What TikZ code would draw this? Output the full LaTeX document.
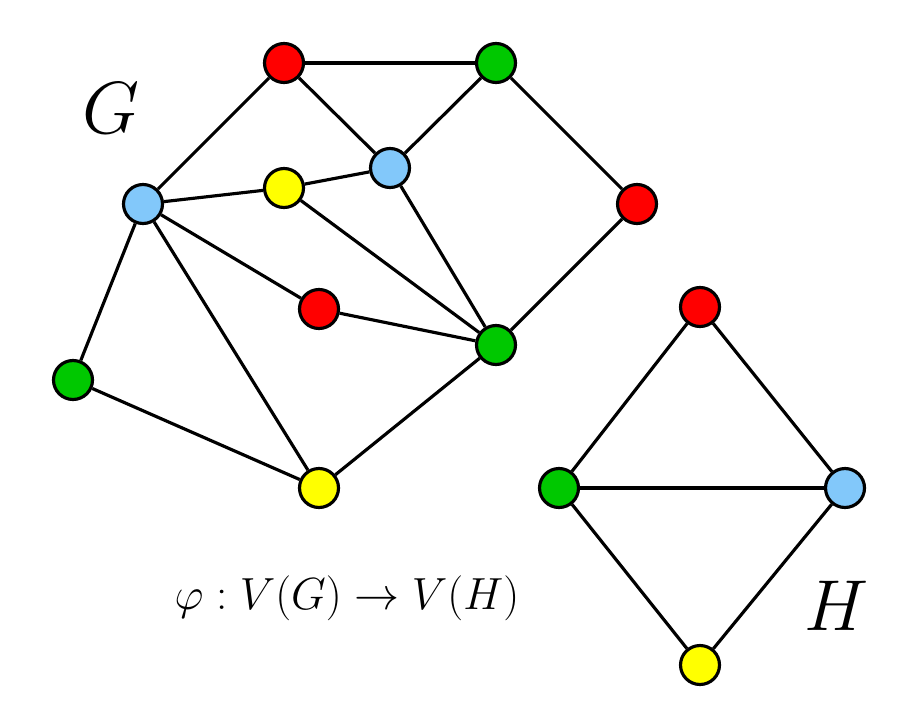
\documentclass[tikz,border=0pt]{standalone}
\usepackage{amsmath}
\definecolor{cred}{RGB}{255,0,0}
\definecolor{cgreen}{RGB}{0,200,0}
\definecolor{cblue}{RGB}{130,200,250}
\definecolor{cyellow}{RGB}{255,255,0}
\begin{document}
\begin{tikzpicture}[x=0.02cm, y=-0.02cm,
  vtx/.style={circle, draw, line width=1.8pt, minimum size=0.78cm, inner sep=0pt},
  edge/.style={line width=1.8pt}]
  \useasboundingbox (0,0) rectangle (901,706);
  % graph G
  \node[vtx, fill=cred]    (r1) at (284,63)  {};
  \node[vtx, fill=cgreen]  (g1) at (496,63)  {};
  \node[vtx, fill=cblue]   (b1) at (390,168) {};
  \node[vtx, fill=cyellow] (y1) at (284,188) {};
  \node[vtx, fill=cblue]   (b0) at (143,204) {};
  \node[vtx, fill=cred]    (r2) at (637,204) {};
  \node[vtx, fill=cred]    (r3) at (319,309) {};
  \node[vtx, fill=cgreen]  (g2) at (496,345) {};
  \node[vtx, fill=cgreen]  (g3) at (73,380)  {};
  \node[vtx, fill=cyellow] (y2) at (319,488) {};
  \foreach \a/\b in {r1/g1, r1/b0, r1/b1, g1/b1, g1/r2, r2/g2, b0/y1, y1/b1, y1/g2, b1/g2,
                     b0/r3, r3/g2, b0/y2, b0/g3, g3/y2, y2/g2}
    \draw[edge] (\a) -- (\b);
  % graph H
  \node[vtx, fill=cred]    (hr) at (700,307) {};
  \node[vtx, fill=cgreen]  (hg) at (559,488) {};
  \node[vtx, fill=cblue]   (hb) at (845,488) {};
  \node[vtx, fill=cyellow] (hy) at (700,665) {};
  \foreach \a/\b in {hr/hg, hr/hb, hg/hb, hg/hy, hb/hy}
    \draw[edge] (\a) -- (\b);
  % labels
  \node (lg) at (111,108) {\scalebox{1.69}{\Huge$G$}};
  \node (lh) at (837,606) {\scalebox{1.65}{\Huge$H$}};
  \node (phi) at (347,598) {\scalebox{1.03}{\Huge$\varphi : V(G) \to V(H)$}};
\end{tikzpicture}
\end{document}
